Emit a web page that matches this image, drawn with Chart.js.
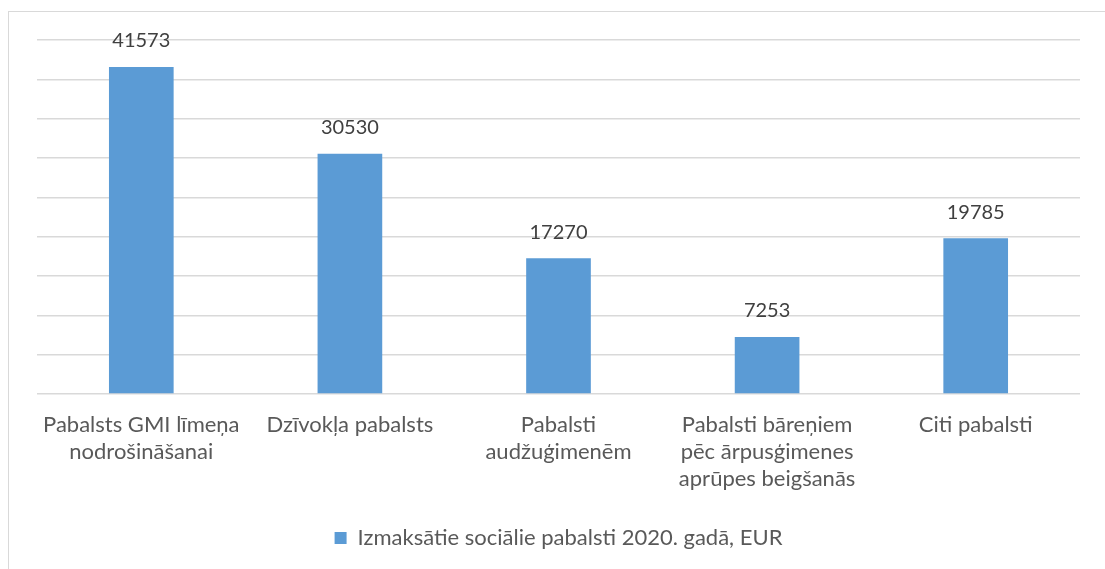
<!DOCTYPE html>
<html>
<head>
<meta charset="utf-8">
<script src="https://cdn.jsdelivr.net/npm/chart.js@4.4.1/dist/chart.umd.min.js"></script>
<style>
  html, body { margin: 0; padding: 0; background: #fff; }
  #frame { position: absolute; left: 8px; top: 11px; width: 1200px; height: 700px; border: 1px solid #d9d9d9; box-sizing: border-box; }
  #wrap { position: absolute; left: 0; top: 0; width: 1105px; height: 569px; }
</style>
</head>
<body>
<div id="frame"></div>
<div id="wrap"><canvas id="c" width="1105" height="569"></canvas></div>
<script>
const categories = [
  ["Pabalsts GMI līmeņa", "nodrošināšanai"],
  ["Dzīvokļa pabalsts"],
  ["Pabalsti", "audžuģimenēm"],
  ["Pabalsti bāreņiem", "pēc ārpusģimenes", "aprūpes beigšanās"],
  ["Citi pabalsti"]
];
const seriesName = "Izmaksātie sociālie pabalsti 2020. gadā, EUR";
const values = [41573, 30530, 17270, 7253, 19785];
const yMax = 45000;
const yStep = 5000;

const FONT = "Lato, 'Open Sans', sans-serif";

const dataLabels = {
  id: 'dataLabels',
  afterDatasetsDraw(chart) {
    const ctx = chart.ctx;
    const meta = chart.getDatasetMeta(0);
    ctx.save();
    ctx.font = "20px " + FONT;
    ctx.fillStyle = "#404040";
    ctx.textAlign = "center";
    ctx.textBaseline = "middle";
    meta.data.forEach((bar, i) => {
      ctx.fillText(String(values[i]), bar.x, bar.y - 26);
    });
    ctx.restore();
  }
};

new Chart(document.getElementById('c'), {
  type: 'bar',
  data: {
    labels: categories,
    datasets: [{
      label: seriesName,
      data: values,
      backgroundColor: '#5B9BD5',
      borderWidth: 0,
      categoryPercentage: 1.0,
      barPercentage: 0.31
    }]
  },
  options: {
    responsive: false,
    animation: false,
    devicePixelRatio: 1,
    layout: { padding: { left: 37, right: 25, top: 40, bottom: 10 } },
    plugins: {
      tooltip: { enabled: false },
      legend: {
        position: 'bottom',
        labels: {
          font: { family: FONT, size: 22 },
          color: '#595959',
          boxWidth: 12,
          boxHeight: 12,
          padding: 10
        }
      }
    },
    scales: {
      x: {
        grid: { display: false },
        border: { display: false },
        ticks: {
          font: { family: FONT, size: 22, lineHeight: 1.23 },
          color: '#595959',
          padding: 9,
          maxRotation: 0,
          autoSkip: false
        },
        afterFit(scale) { scale.height = 123; }
      },
      y: {
        min: 0,
        max: yMax,
        ticks: { display: false, stepSize: yStep },
        grid: { color: '#d9d9d9', lineWidth: 1.5, drawTicks: false },
        border: { display: false },
        afterFit(scale) { scale.width = 0; }
      }
    }
  },
  plugins: [dataLabels]
});
</script>
</body>
</html>
